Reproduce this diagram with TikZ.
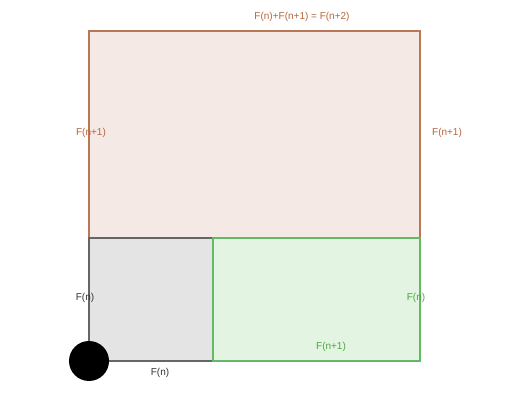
\documentclass[tikz,border=0pt]{standalone}
\usepackage{fontspec}
\setmainfont{Liberation Sans}
\usepackage{tikz}
\usetikzlibrary{positioning, calc}

\definecolor{brownline}{RGB}{184,120,88}
\definecolor{brownfill}{RGB}{245,233,229}
\definecolor{browntext}{RGB}{180,100,60}
\definecolor{grayline}{RGB}{102,102,102}
\definecolor{grayfill}{RGB}{228,228,228}
\definecolor{greenline}{RGB}{100,185,100}
\definecolor{greenfill}{RGB}{227,244,227}
\definecolor{greentext}{RGB}{70,170,60}

\begin{document}
\begin{tikzpicture}[x=1pt, y=1pt, every node/.style={font=\fontsize{10}{12}\selectfont, inner sep=0pt}]

\useasboundingbox (0,0) rectangle (510,414);

%//the three rectangles
\draw [brownline, fill=brownfill, line width=1.3pt] (89,383) rectangle (420,176);
\draw [grayline, fill=grayfill, line width=1.3pt] (89,176) rectangle (213,53);
\draw [greenline, fill=greenfill, line width=1.3pt] (213,176) rectangle (420,53);

\fill [black] (89,53) circle (20);

%//labels
\node [text=browntext] (sum) at (302,397.5) {F(n)+F(n+1) = F(n+2)};
\node [text=browntext] (leftbig) at (91,281.5) {F(n+1)};
\node [text=browntext] (rightbig) at (447,281.5) {F(n+1)};

\node [text=black!80] (leftsmall) at (85,116.5) {F(n)};
\node [text=black!80] (bottomsmall) at (160,41.5) {F(n)};

\node [text=greentext] (rightsmall) at (416,116.5) {F(n)};
\node [text=greentext] (bottomgreen) at (331,67.5) {F(n+1)};
\end{tikzpicture}
\end{document}
